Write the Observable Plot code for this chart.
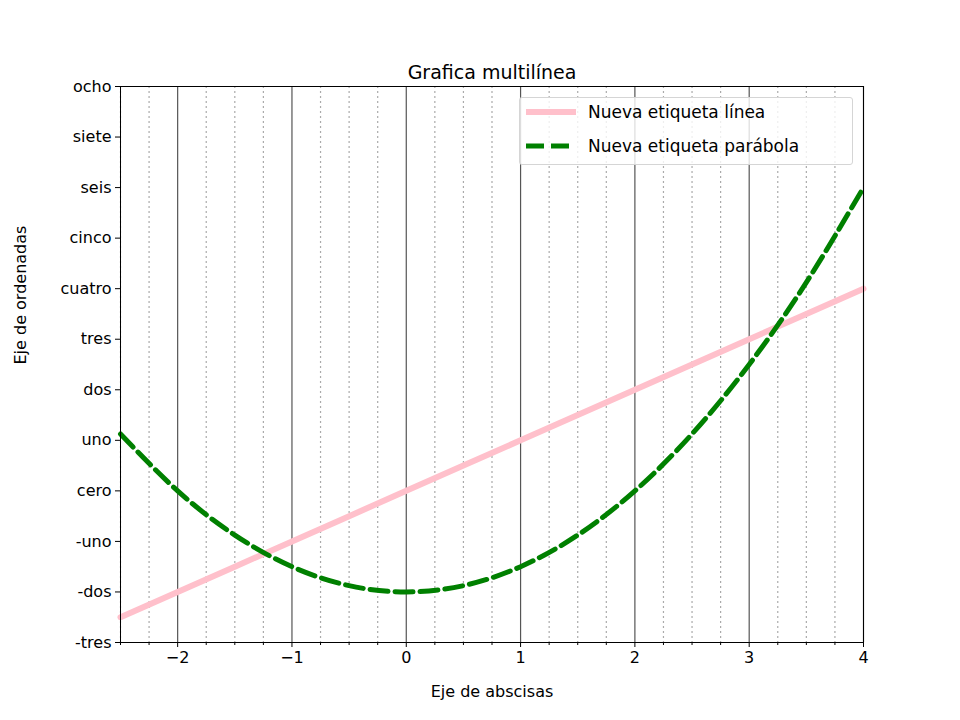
<!DOCTYPE html>
<html>
<head>
<meta charset="utf-8">
<script src="https://cdn.jsdelivr.net/npm/d3@7"></script>
<script src="https://cdn.jsdelivr.net/npm/@observablehq/plot@0.6"></script>
<style>
  body { margin: 0; background: #fff; font-family: "DejaVu Sans", sans-serif; }
  #wrap { position: relative; width: 960px; height: 720px; }
  #legend { position: absolute; left: 519px; top: 97px; width: 332px; height: 66px;
    border: 1px solid #d5d5d5; border-radius: 3px; background: rgba(255,255,255,0.8); font-size: 17px; }
  .row { position: absolute; left: 6px; display: flex; align-items: center; }
  .row span { margin-left: 12px; }
</style>
</head>
<body>
<div id="wrap">
  <div id="chart"></div>
  <div id="legend">
    <div class="row" style="top:4px"><svg width="50" height="20"><line x1="0" x2="50" y1="10" y2="10" stroke="pink" stroke-width="6"/></svg><span>Nueva etiqueta línea</span></div>
    <div class="row" style="top:38px"><svg width="50" height="20"><line x1="0" x2="50" y1="10" y2="10" stroke="green" stroke-width="5" stroke-dasharray="18 7"/></svg><span>Nueva etiqueta parábola</span></div>
  </div>
</div>
<script>
// valores
const xs = [-2.5, -2, -1.5, -1, -0.5, 0, 0.5, 1, 1.5, 2, 2.5, 3, 3.5, 4];
const lineaY = [-2.5, -2, -1.5, -1, -0.5, 0, 0.5, 1, 1.5, 2, 2.5, 3, 3.5, 4];
const parabolaY = [1.125, 0, -0.875, -1.5, -1.875, -2, -1.875, -1.5, -0.875, 0, 1.125, 2.5, 4.125, 6];
const yTicks = [-3, -2, -1, 0, 1, 2, 3, 4, 5, 6, 7, 8];
const yLabels = ["-tres", "-dos", "-uno", "cero", "uno", "dos", "tres", "cuatro", "cinco", "seis", "siete", "ocho"];
const majorX = [-2, -1, 0, 1, 2, 3, 4];
const minorX = d3.range(-2.5, 4.001, 0.25).filter(v => !majorX.includes(v));

const linea = xs.map((x, i) => ({ x, y: lineaY[i] }));
const parabola = xs.map((x, i) => ({ x, y: parabolaY[i] }));

const chart = Plot.plot({
  width: 960,
  height: 720,
  marginLeft: 120,
  marginRight: 97,
  marginTop: 86,
  marginBottom: 78,
  style: { fontFamily: "DejaVu Sans, sans-serif", fontSize: "16px", color: "black" },
  x: { domain: [-2.5, 4] },
  y: { domain: [-3, 8] },
  marks: [
    Plot.ruleX(minorX, { stroke: "#aaa", strokeDasharray: "2 3", strokeWidth: 1.2 }),
    Plot.ruleX(majorX, { stroke: "#555", strokeWidth: 1.2 }),
    Plot.line(linea, { x: "x", y: "y", stroke: "pink", strokeWidth: 6 }),
    Plot.line(parabola, { x: "x", y: "y", stroke: "green", strokeWidth: 5, strokeDasharray: "18 7", curve: "natural" }),
    Plot.frame({ stroke: "black" }),
    Plot.axisX(majorX, { tickSize: 5, tickFormat: d => d < 0 ? "\u2212" + Math.abs(d) : String(d), fontSize: 16, tickPadding: 4, label: null }),
    Plot.axisX(minorX, { tickSize: 3, tickFormat: null, text: null, label: null }),
    Plot.axisY(yTicks, { tickSize: 5, tickFormat: d => yLabels[yTicks.indexOf(d)], fontSize: 16, label: null }),
    Plot.text(["Eje de abscisas"], { frameAnchor: "bottom", dy: 54, fontSize: 16 }),
    Plot.text(["Eje de ordenadas"], { frameAnchor: "left", dx: -100, rotate: -90, fontSize: 16 }),
    Plot.text(["Grafica multilínea"], { frameAnchor: "top", dy: -21, fontSize: 19 })
  ]
});
document.getElementById("chart").append(chart);
</script>
</body>
</html>
